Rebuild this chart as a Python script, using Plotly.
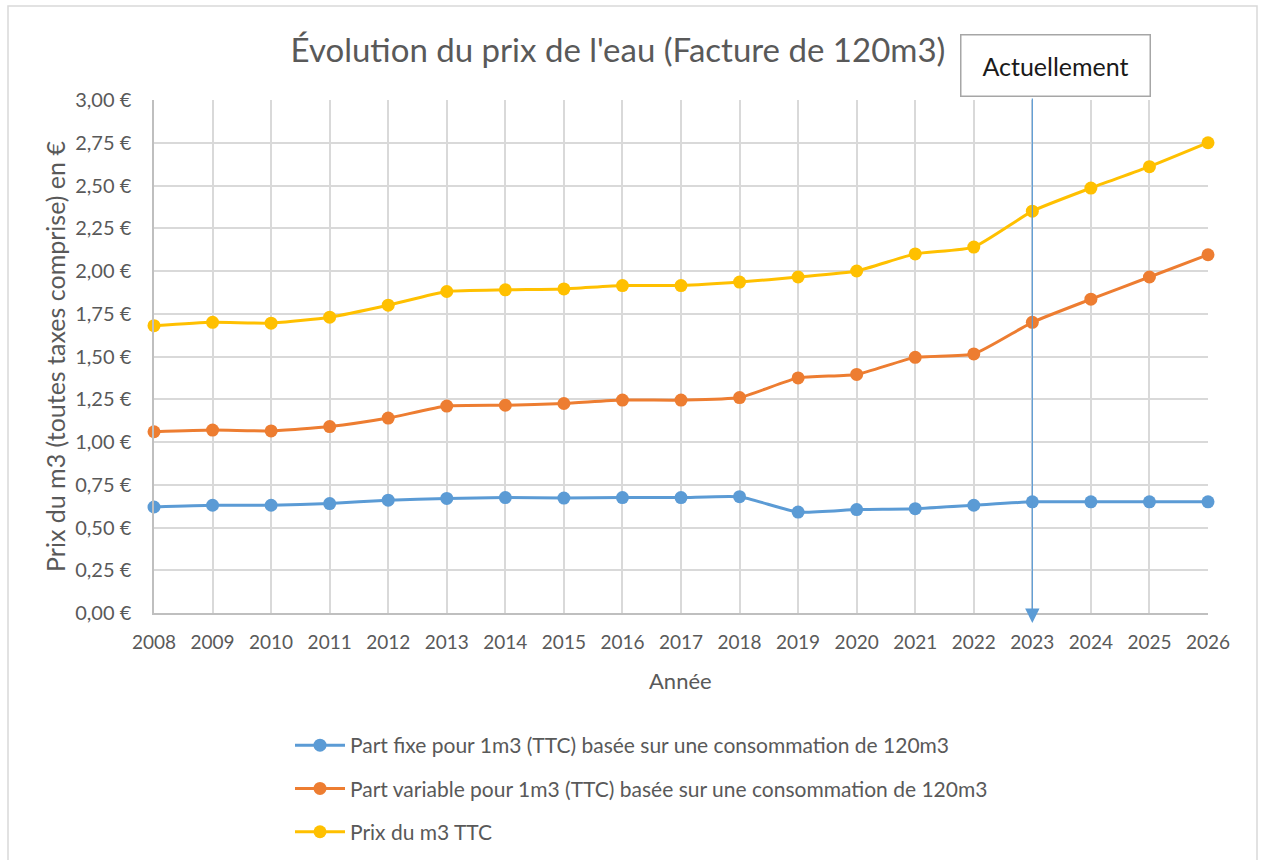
import plotly.graph_objects as go

# Years covered by the water bill series
annees = list(range(2008, 2027))

# Price per m3 (TTC), in euros
part_fixe = [0.62, 0.63, 0.63, 0.64, 0.66, 0.67, 0.675, 0.672, 0.675, 0.675, 0.68,
             0.59, 0.605, 0.61, 0.63, 0.65, 0.65, 0.65, 0.65]
part_variable = [1.06, 1.07, 1.065, 1.09, 1.14, 1.21, 1.215, 1.225, 1.245, 1.245, 1.26,
                 1.375, 1.395, 1.495, 1.515, 1.70, 1.835, 1.965, 2.095]
prix_m3 = [1.68, 1.70, 1.695, 1.73, 1.80, 1.88, 1.89, 1.895, 1.915, 1.915, 1.935,
           1.965, 2.00, 2.10, 2.14, 2.35, 2.485, 2.61, 2.75]

noms = [
    "Part fixe pour 1m3 (TTC) basée sur une consommation de 120m3",
    "Part variable pour 1m3 (TTC) basée sur une consommation de 120m3",
    "Prix du m3 TTC",
]
couleurs = ["#5b9bd5", "#ed7d31", "#ffc000"]

y_ticks = [i * 0.25 for i in range(13)]
y_ticktext = [f"{v:.2f}".replace(".", ",") + " €" for v in y_ticks]

annee_courante = 2023

FONT = "Lato"
GRIS = "#595959"

fig = go.Figure()
for nom, serie, coul in zip(noms, [part_fixe, part_variable, prix_m3], couleurs):
    fig.add_trace(go.Scatter(
        x=annees, y=serie, name=nom, mode="lines+markers",
        line=dict(color=coul, width=3, shape="spline", smoothing=0.5),
        marker=dict(color=coul, size=13),
        cliponaxis=False, legendgroup=nom,
    ))

W, H = 1263, 860
L, R, T, B = 154, 55, 100, 247
pw, ph = W - L - R, H - T - B


def px_x(px):
    return (px - L) / pw


def px_y(py):
    return (H - B - py) / ph


fig.update_layout(
    width=W, height=H,
    margin=dict(l=L, r=R, t=T, b=B, autoexpand=False),
    paper_bgcolor="white", plot_bgcolor="white",
    font=dict(family=FONT, color=GRIS, size=20),
    title=dict(
        text="Évolution du prix de l'eau (Facture de 120m3)",
        x=618 / W, xanchor="center", y=1 - 50 / H, yanchor="middle",
        font=dict(family=FONT, size=33, color=GRIS),
    ),
    xaxis=dict(
        range=[2008, 2026], tickmode="array", tickvals=annees,
        ticktext=[str(a) for a in annees],
        showgrid=True, gridcolor="#d9d9d9", gridwidth=1.5,
        showline=True, linecolor="#bfbfbf", linewidth=1.5,
        zeroline=False, ticks="", ticklabelstandoff=11,
        tickfont=dict(size=19, color=GRIS),
    ),
    yaxis=dict(
        range=[0, 3], tickmode="array", tickvals=y_ticks, ticktext=y_ticktext,
        showgrid=True, gridcolor="#d9d9d9", gridwidth=1.5,
        showline=True, linecolor="#bfbfbf", linewidth=1.5,
        zeroline=False, ticks="", ticklabelstandoff=17,
        tickfont=dict(size=20, color=GRIS),
    ),
    legend=dict(
        x=px_x(290), y=px_y(725), xanchor="left", yanchor="top",
        font=dict(size=21, color=GRIS), tracegroupgap=13,
        bgcolor="rgba(0,0,0,0)", itemwidth=50,
    ),
    showlegend=True,
)

# Outer chart frame
fig.add_shape(type="rect", xref="paper", yref="paper",
              x0=px_x(8), x1=px_x(1257), y0=px_y(875), y1=px_y(6),
              line=dict(color="#d9d9d9", width=1.5), layer="below")

# Axis titles
fig.add_annotation(text="Prix du m3 (toutes taxes comprise) en €",
                   xref="paper", yref="paper", x=px_x(55), y=px_y(357),
                   xanchor="center", yanchor="middle",
                   textangle=-90, showarrow=False,
                   font=dict(size=25, color=GRIS))
fig.add_annotation(text="Année", xref="paper", yref="paper",
                   x=px_x(680), y=px_y(680), xanchor="center", yanchor="middle",
                   showarrow=False, font=dict(size=22, color=GRIS))

# "Actuellement" marker: arrow down to the current year
fig.add_annotation(x=annee_courante, xref="x", y=px_y(623), yref="paper",
                   ax=0, ay=-(623 - 97), axref="pixel", ayref="pixel",
                   text="", showarrow=True, arrowhead=2, arrowsize=2.4,
                   arrowwidth=1.2, arrowcolor="#5b9bd5", standoff=0)
fig.add_annotation(text="Actuellement", xref="paper", yref="paper",
                   x=px_x(1055), y=px_y(66), xanchor="center", yanchor="middle",
                   showarrow=False, bgcolor="white", bordercolor="#a6a6a6",
                   borderwidth=1.5, borderpad=0, width=188, height=60,
                   font=dict(size=25, color="#1a1a1a"))

fig.write_html("out.html")
